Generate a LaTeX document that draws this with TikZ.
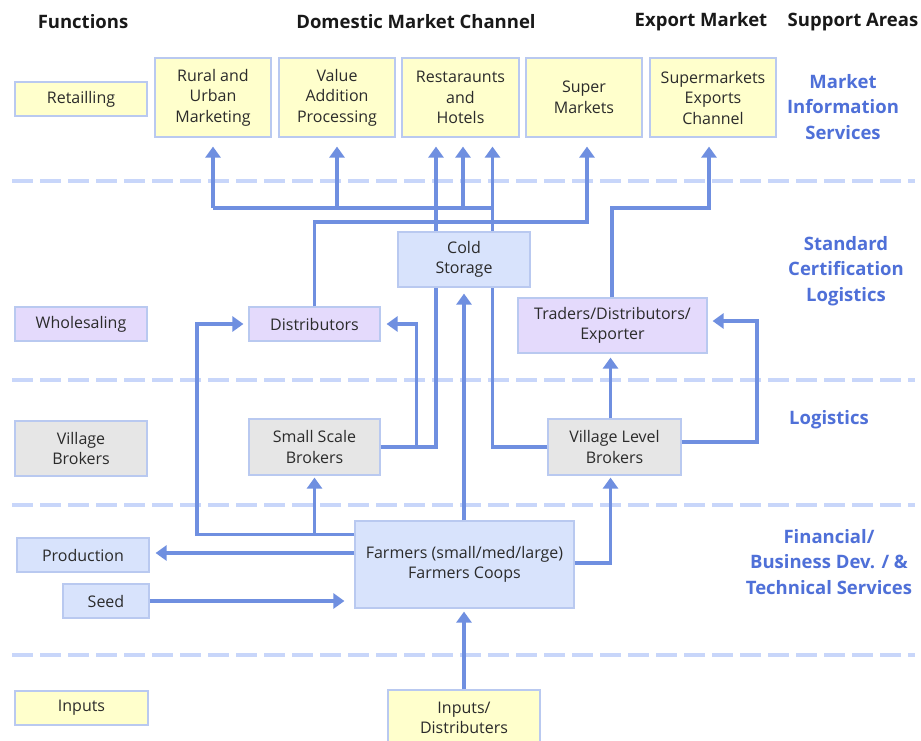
\documentclass[tikz,border=0pt]{standalone}
\usepackage{fontspec}
\setmainfont{Open Sans}
\usetikzlibrary{arrows.meta}
\definecolor{linkc}{HTML}{6F8FE0}
\definecolor{sepc}{HTML}{C8D6FA}
\definecolor{edgec}{HTML}{B9C9F0}
\definecolor{yel}{HTML}{FFFFCC}
\definecolor{lav}{HTML}{E4DAFC}
\definecolor{gry}{HTML}{E6E6E6}
\definecolor{lblue}{HTML}{D8E3FC}
\definecolor{supc}{HTML}{4F70D8}
\definecolor{txtc}{HTML}{2B2B2B}
\tikzset{
  bx/.style={draw=edgec, line width=1.2pt, inner sep=0pt, align=center, text=txtc,
     font=\fontsize{16}{20.5}\selectfont},
  ybx/.style={bx, fill=yel},
  lbx/.style={bx, fill=lav},
  gbx/.style={bx, fill=gry},
  bbx/.style={bx, fill=lblue},
  hdr/.style={font=\bfseries\fontsize{18.5}{21}\selectfont, text=black!90},
  suplab/.style={font=\bfseries\fontsize{18.5}{25.5}\selectfont, text=supc, align=center},
  sepline/.style={draw=sepc, line width=4pt, dash pattern=on 21pt off 7pt},
  link/.style={draw=linkc, line width=3.2pt},
  arr/.style={link, -{Triangle[length=11pt,width=15pt]}, shorten >=5pt},
}
\begin{document}
\begin{tikzpicture}[x=1pt,y=-1pt]
\useasboundingbox (0,0) rectangle (921,740);
\fill[white] (0,0) rectangle (921,740);

% headers
\node[hdr] (hfun) at (83,22) {Functions};
\node[hdr] (hdom) at (416,22) {Domestic Market Channel};
\node[hdr] (hexp) at (701,22) {Export Market};
\node[hdr] (hsup) at (853,22) {Support Areas};

% separators
\draw[sepline] (12,181) -- (915,181);
\draw[sepline] (12,380) -- (915,380);
\draw[sepline] (12,505) -- (915,505);
\draw[sepline] (12,655) -- (915,655);

% support labels
\node[suplab] (s1) at (843,107) {Market\\Information\\Services};
\node[suplab] (s2) at (846,271) {Standard\\Certification\\Logistics};
\node[suplab] (s3) at (829,420) {Logistics};
\node[suplab] (s4) at (829,562) {Financial/\\Business Dev. / \&\\Technical Services};

% boxes
\node[ybx, minimum width=116pt, minimum height=79pt] (rural) at (213,97.5) {Rural and\\Urban\\Marketing};
\node[ybx, minimum width=116pt, minimum height=79pt] (value) at (337,97.5) {Value\\Addition\\Processing};
\node[ybx, minimum width=117pt, minimum height=79pt] (rest) at (460.5,97.5) {Restaraunts\\and\\Hotels};
\node[ybx, minimum width=116pt, minimum height=79pt] (super) at (584,97.5) {Super\\Markets};
\node[ybx, minimum width=126pt, minimum height=79pt] (exports) at (713,97.5) {Supermarkets\\Exports\\Channel};
\node[ybx, minimum width=132pt, minimum height=34pt] (retail) at (81,99) {Retailling};

\node[lbx, minimum width=131pt, minimum height=34pt] (dist) at (314.5,324) {Distributors};
\node[lbx, minimum width=132pt, minimum height=34pt] (whole) at (81,324) {Wholesaling};
\node[lbx, minimum width=189pt, minimum height=55pt] (traders) at (612.5,325.5) {Traders/Distributors/\\Exporter};
\node[gbx, minimum width=132pt, minimum height=55pt] (vbrok) at (81,448.5) {Village\\Brokers};
\node[gbx, minimum width=131pt, minimum height=56pt] (ssb) at (314.5,447) {Small Scale\\Brokers};
\node[gbx, minimum width=133pt, minimum height=56pt] (vlb) at (614.5,447) {Village Level\\Brokers};
\node[bbx, minimum width=132pt, minimum height=34pt] (prod) at (83,555) {Production};
\node[bbx, minimum width=86pt, minimum height=34pt] (seed) at (106,601) {Seed};
\node[ybx, minimum width=133pt, minimum height=34pt] (inputs) at (81.5,708) {Inputs};
\node[ybx, minimum width=152pt, minimum height=56pt] (inpdist) at (464,718) {Inputs/\\Distributers};

% coordinates
\coordinate (r1) at ([xshift=-24.5pt]rest.south);
\coordinate (r2) at ([xshift=2.5pt]rest.south);
\coordinate (r3) at ([xshift=32pt]rest.south);
\coordinate (sup1) at ([xshift=3pt]super.south);
\coordinate (exp1) at ([xshift=-4pt]exports.south);

% connectors behind cold storage
\draw[link] (rural.south |- 0,208) -- (r3 |- 0,208);
\draw[arr, shorten >=9pt] (rural.south |- 0,208) -- (rural.south);
\draw[arr, shorten >=9pt] (value.south |- 0,208) -- (value.south);
\draw[arr, shorten >=9pt] (r2 |- 0,208) -- (r2);
\draw[arr, shorten >=9pt] (vlb.west) -| (r3);
\draw[arr, shorten >=9pt] (ssb.east) -| (r1);
\draw[arr, shorten >=6pt] ([xshift=36pt]ssb.east) |- (dist.east);
\draw[arr, shorten >=9pt] (dist.north) -- (dist.north |- 0,222) -| (sup1);
\draw[arr, shorten >=9pt] ([xshift=-0.5pt]traders.north) -- ([xshift=-0.5pt]traders.north |- 0,208) -| (exp1);

\node[bbx, minimum width=132pt, minimum height=55pt] (cold) at (464,259.5) {Cold\\Storage};
\node[bbx, minimum width=219pt, minimum height=87pt] (farmers) at (464.5,564.5) {Farmers (small/med/large)\\Farmers Coops};

\coordinate (fw1) at ([yshift=30pt]farmers.west);
\coordinate (fw2) at ([yshift=11.5pt]farmers.west);
\coordinate (lx) at (197,324);
\coordinate (vlbs) at ([xshift=-4pt]vlb.south);
\coordinate (vlbn) at ([xshift=-4pt]vlb.north);
\coordinate (vlbe) at ([yshift=5pt]vlb.east);
\coordinate (tre) at ([yshift=4.5pt]traders.east);
\coordinate (rx) at (757,400);

\draw[arr, shorten >=6pt] (farmers.north -| cold.south) -- (cold.south);
\draw[arr] (fw1) -| (lx) -- (dist.west);
\draw[arr, shorten >=2pt] (ssb.south |- fw1) -- (ssb.south);
\draw[arr, shorten >=6pt] (fw2) -- (prod.east |- fw2);
\draw[arr, shorten >=10pt] (seed.east) -- (farmers.west |- seed.east);
\draw[arr, shorten >=2pt] ([yshift=1.5pt]farmers.east) -| (vlbs);
\draw[arr, shorten >=4pt] (vlbn) -- (vlbn |- traders.south);
\draw[arr] (vlbe) -| (rx) |- (tre);
\draw[arr, shorten >=3pt] (inpdist.north) -- (inpdist.north |- farmers.south);
\end{tikzpicture}
\end{document}
